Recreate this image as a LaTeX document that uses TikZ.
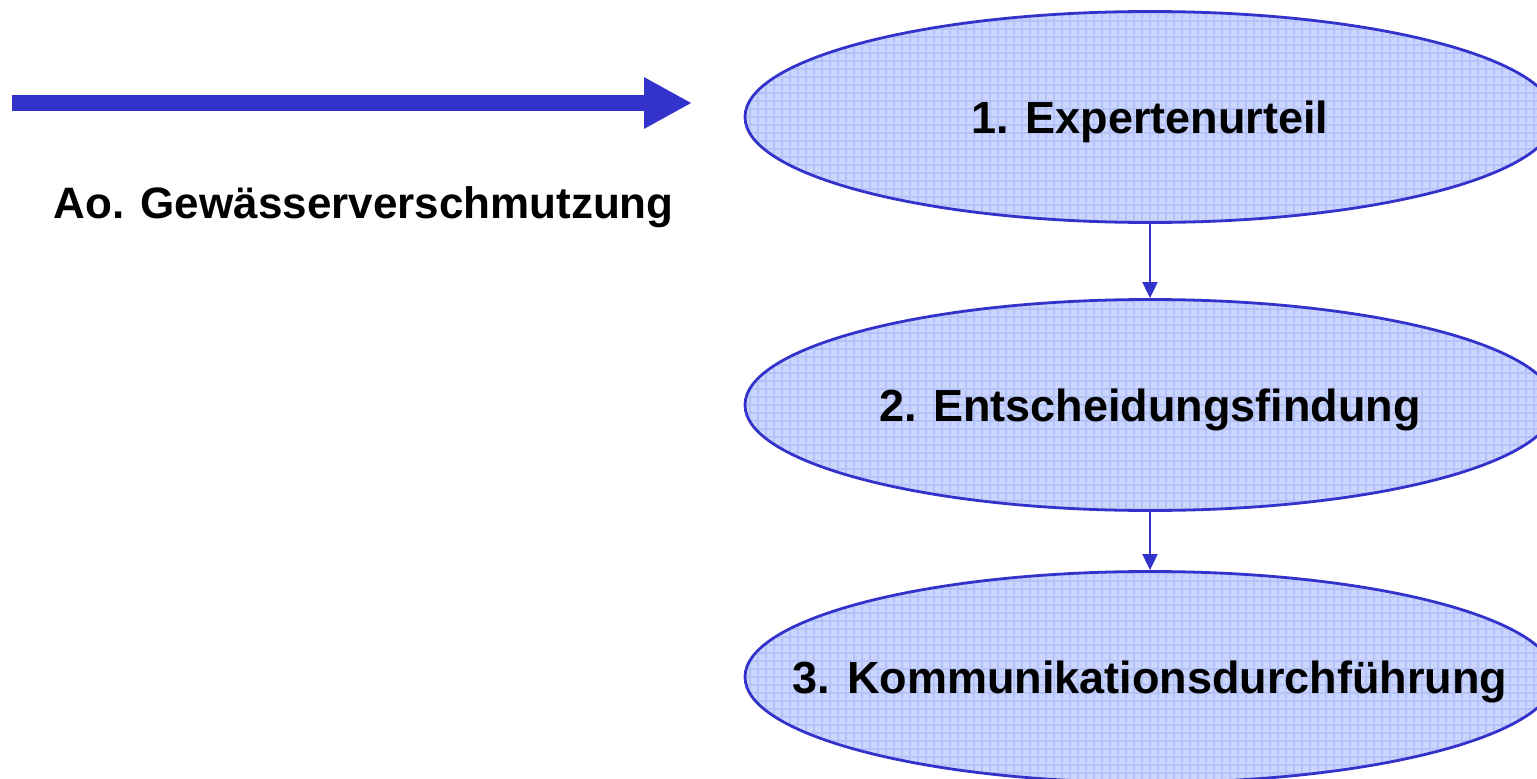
\documentclass[tikz,border=0pt]{standalone}
\usepackage{fontspec}
\setmainfont{Liberation Sans}
\usepackage{xcolor}
\usepackage{tikz}
\usetikzlibrary{shapes.geometric, arrows.meta}
\definecolor{flowblue}{RGB}{51, 51, 204}
\definecolor{cellblue}{RGB}{204, 213, 252}
\definecolor{cellline}{RGB}{180, 194, 250}
\newcommand{\stagetext}[1]{\raisebox{-16pt}[0pt][0pt]{\makebox[0pt]{#1}}}

\begin{document}
\begin{tikzpicture}[x=1pt, y=-1pt, >={Triangle[length=16pt, width=15pt]}]
    \tikzset{
        stage/.style={ellipse, draw=flowblue, line width=2.8pt, fill=cellblue,
            minimum width=810pt, minimum height=211pt, inner sep=0pt,
            path picture={\draw[cellline, line width=1.2pt, step=8pt]
                (path picture bounding box.south west) grid (path picture bounding box.north east);},
            font=\fontsize{45}{52}\selectfont\bfseries},
        link/.style={->, flowblue, line width=2pt}
    }
    \clip (0,0) rectangle (1537,779);
    \fill[white] (0,0) rectangle (1537,779);

    \node[stage] (expert)  at (1150,117) {\stagetext{1. Expertenurteil}};
    \node[stage] (decide)  at (1150,405) {\stagetext{2. Entscheidungsfindung}};
    \node[stage] (comm)    at (1150,677) {\stagetext{3. Kommunikationsdurchführung}};

    \draw[link] (expert) -- (decide);
    \draw[link] (decide) -- (comm);

    \coordinate (in start) at (12,103);
    \coordinate (in end)   at (692,103);
    \draw[flowblue, line width=16pt, -{Triangle[length=48pt, width=48pt]}] (in start) -- (in end);

    \node[anchor=base west, font=\fontsize{44}{50}\selectfont\bfseries] (topic) at (50,218) {Ao. Gewässerverschmutzung};
\end{tikzpicture}
\end{document}
